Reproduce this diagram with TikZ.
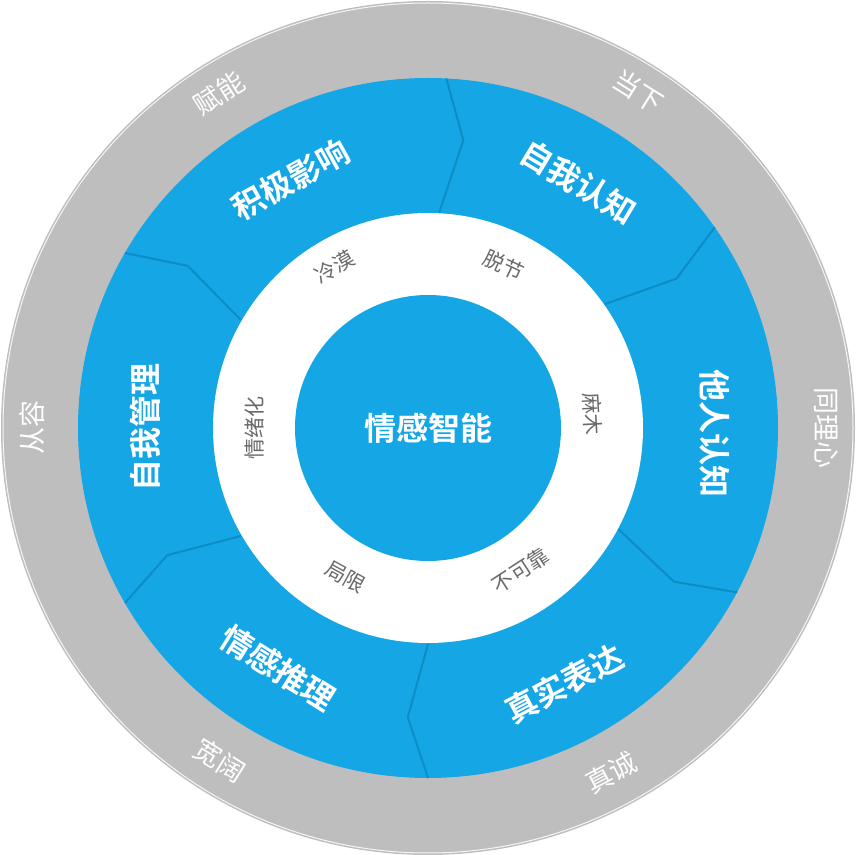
\documentclass[tikz,border=0pt]{standalone}
\usepackage{fontspec}
\newfontfamily\cjk{Noto Sans CJK SC}
\newfontfamily\cjkb{Noto Sans CJK SC Bold}
\definecolor{ringgrey}{HTML}{BEBEBE}
\definecolor{eqblue}{HTML}{15A6E6}
\definecolor{sepblue}{HTML}{0E8CC6}
\definecolor{txtgrey}{HTML}{6A6A6A}
\begin{document}
\begin{tikzpicture}[x=1pt,y=1pt,
  outerlbl/.style={text=white,font=\cjk\fontsize{27}{27}\selectfont},
  segl/.style={text=white,font=\cjkb\fontsize{32}{32}\selectfont},
  innerlbl/.style={text=txtgrey,font=\cjk\fontsize{21}{21}\selectfont},
  sep/.style={draw=sepblue,line width=2pt,line join=round}]
\useasboundingbox (0,0) rectangle (855,855);
\coordinate (c) at (428,427);
\fill[ringgrey] (c) circle (427);
\draw[white!85!ringgrey,line width=1pt] (c) circle (425);
\fill[eqblue] (c) circle (350);
\fill[white] (c) circle (215);
\fill[eqblue] (c) circle (133);
\foreach \a in {87,35,-28,-90,-150,150}{
  \draw[sep] ([shift={(\a:350)}]c) -- ([shift={(\a-4:290)}]c) -- ([shift={(\a:216)}]c);
}
% outer labels
\node[outerlbl,rotate=32] (o1) at ([shift={(122:395)}]c) {赋能};
\node[outerlbl,rotate=-32] (o2) at ([shift={(58:397)}]c) {当下};
\node[outerlbl,rotate=-90] (o3) at ([shift={(0:398)}]c) {同理心};
\node[outerlbl,rotate=28] (o4) at ([shift={(-62:390)}]c) {真诚};
\node[outerlbl,rotate=-32] (o5) at ([shift={(-122:392)}]c) {宽阔};
\node[outerlbl,rotate=90] (o6) at ([shift={(180:396)}]c) {从容};
% segment labels
\node[segl,rotate=-31] (s1) at ([shift={(58.5:288)}]c) {自我认知};
\node[segl,rotate=-90] (s2) at ([shift={(-1:287)}]c) {他人认知};
\node[segl,rotate=28] (s3) at ([shift={(-62:290)}]c) {真实表达};
\node[segl,rotate=-32] (s4) at ([shift={(-122:283)}]c) {情感推理};
\node[segl,rotate=90] (s5) at ([shift={(180:283)}]c) {自我管理};
\node[segl,rotate=29] (s6) at ([shift={(119:284)}]c) {积极影响};
% inner labels
\node[innerlbl,rotate=30] (i1) at ([shift={(120:186)}]c) {冷漠};
\node[innerlbl,rotate=-25] (i2) at ([shift={(65:180)}]c) {脱节};
\node[innerlbl,rotate=-87] (i3) at ([shift={(5:165)}]c) {麻木};
\node[innerlbl,rotate=33] (i4) at ([shift={(-57:170)}]c) {不可靠};
\node[innerlbl,rotate=-29] (i5) at ([shift={(-119:170)}]c) {局限};
\node[innerlbl,rotate=90] (i6) at ([shift={(180:173)}]c) {情绪化};
\node[text=white,font=\cjkb\fontsize{32}{32}\selectfont] (ctr) at (c) {情感智能};
\end{tikzpicture}
\end{document}
